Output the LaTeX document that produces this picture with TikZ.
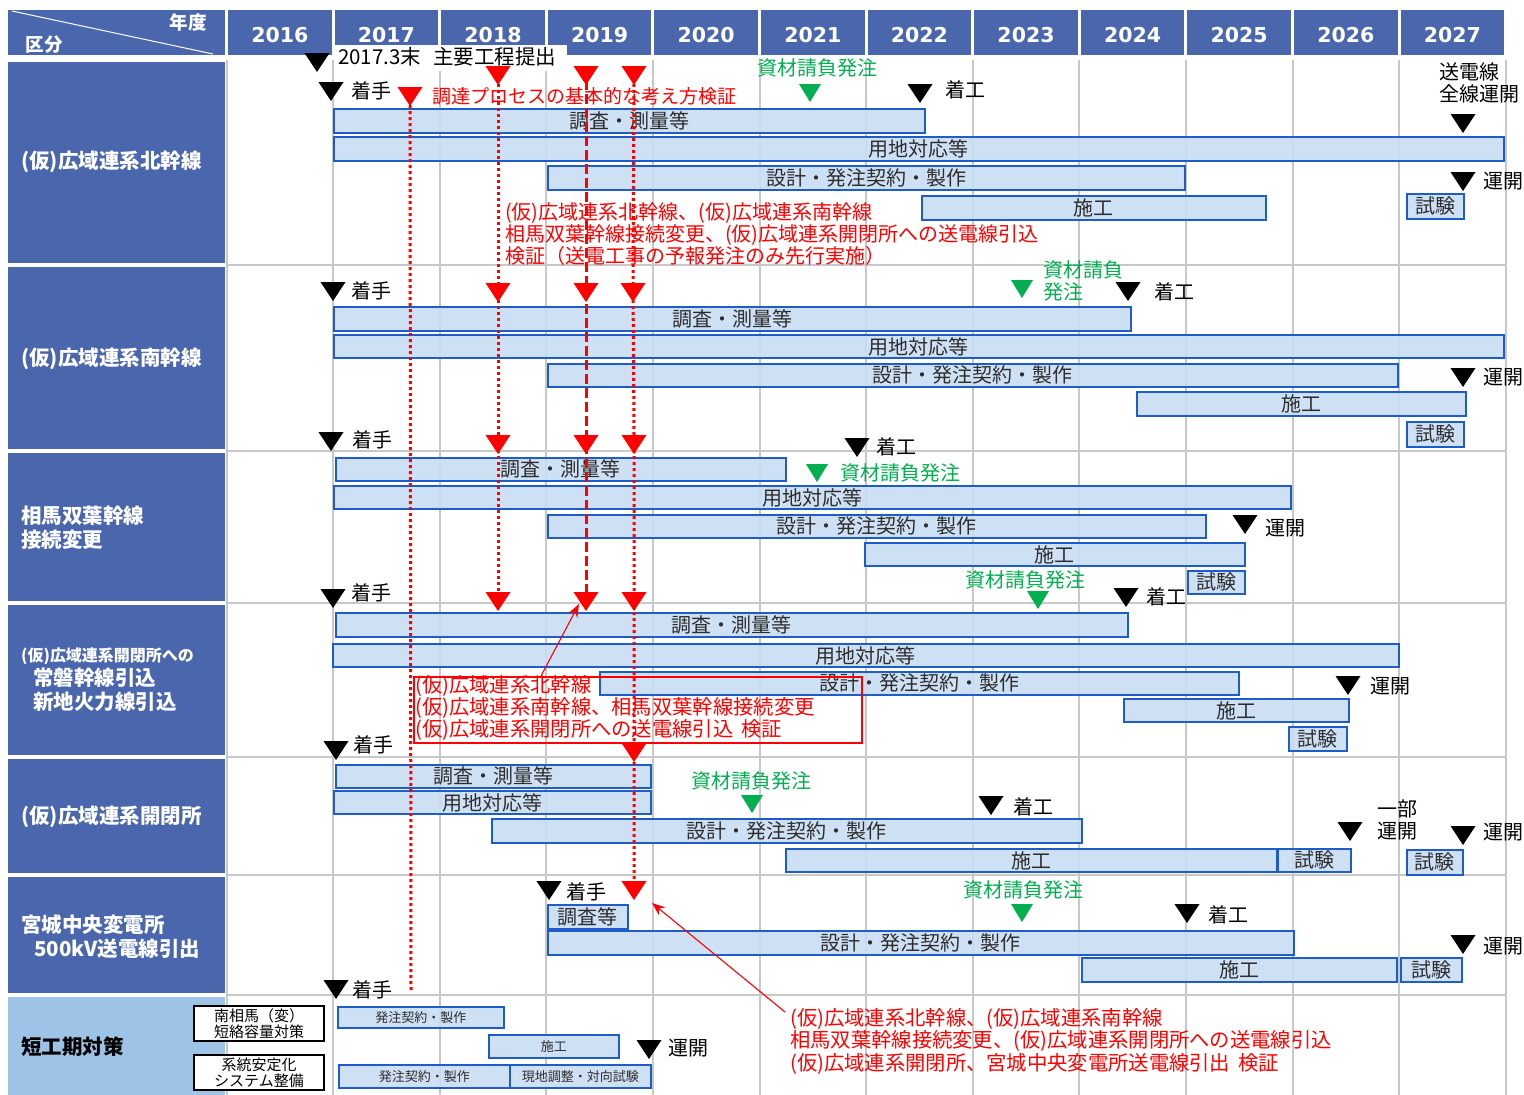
\documentclass[tikz,border=0pt]{standalone}
\usepackage{fontspec}
\setmainfont{Noto Sans CJK JP}
\newfontfamily\yearfont{DejaVu Sans}
\usetikzlibrary{arrows.meta}
\definecolor{hdrblue}{RGB}{74,102,172}
\definecolor{lightlab}{RGB}{157,195,230}
\definecolor{barfill}{RGB}{201,221,243}
\definecolor{barline}{RGB}{30,92,200}
\definecolor{gridgray}{RGB}{200,200,200}
\definecolor{mkgreen}{RGB}{0,176,80}
\definecolor{bartext}{RGB}{45,45,45}
\newcommand{\fsz}[1]{\fontsize{#1}{#1}\selectfont}
\newcommand{\fszl}[2]{\fontsize{#1}{#2}\selectfont}
\tikzset{
  barbox/.style={draw=barline, line width=1.8pt, fill=barfill, fill opacity=0.9, text opacity=1, inner sep=0pt, anchor=north west, font=\fsz{20}, text=bartext},
  labbox/.style={fill=hdrblue, inner sep=0pt, anchor=north west},
  labtxt/.style={text=white, font=\bfseries\fszl{20.5}{24}, inner sep=0pt, anchor=west, align=left},
  yearcell/.style={fill=hdrblue, minimum width=103.6pt, minimum height=45pt, inner sep=0pt},
  yeartxt/.style={text=white, font=\yearfont\bfseries\fsz{20.5}, inner sep=0pt},
  mtxt/.style={font=\fszl{20}{22.5}, inner sep=0pt, anchor=west, text=black, align=left},
  rtxt/.style={mtxt, text=red},
  gtxt/.style={mtxt, text=mkgreen},
  rdot/.style={red, line width=3pt, dash pattern=on 3pt off 3pt},
  rdash/.style={red, line width=3pt, dash pattern=on 10pt off 4pt},
  rarrow/.style={red, line width=1.1pt, -{Stealth[length=13pt,width=10pt]}},
  gline/.style={gridgray, line width=2pt},
  wbox/.style={draw=black, line width=2pt, fill=white, minimum width=130pt, minimum height=35pt, anchor=north west, align=center, font=\fszl{15}{16}, inner sep=0pt}
}
\newcommand{\gb}[6]{\pgfmathsetmacro{\gw}{#4-#2}\pgfmathsetmacro{\gh}{#5-#3}\node[barbox, minimum width=\gw pt, minimum height=\gh pt] (#1) at (#2,#3) {#6};}
\newcommand{\tri}[2]{\fill[#1] ([xshift=-12.5pt]#2) -- ([xshift=12.5pt]#2) -- ([yshift=-19pt]#2) -- cycle;}
\newcommand{\gtri}[1]{\fill[mkgreen] ([xshift=-11pt]#1) -- ([xshift=11pt]#1) -- ([yshift=-18pt]#1) -- cycle;}
\begin{document}
\begin{tikzpicture}[x=1pt,y=-1pt]
\useasboundingbox (0,0) rectangle (1524,1095);
\fill[white] (0,0) rectangle (1524,1095);
% grid
\foreach \k in {0,...,12} \draw[gline] (226.5+106.6*\k,60) -- (226.5+106.6*\k,1095);
\foreach \yy in {264.5,451,603,757,875,995} \draw[gline] (226,\yy) -- (1506,\yy);
% header
\node[labbox, minimum width=217pt, minimum height=45pt] (hdr) at (8,10) {};
\draw[white, line width=1pt] (12,11) -- (213,54);
\node[text=white, font=\bfseries\fsz{18.5}, inner sep=0pt] (nendo) at (188,22) {年度};
\node[text=white, font=\bfseries\fsz{18.5}, inner sep=0pt] (kubun) at (44,45) {区分};
\foreach \yr [count=\i from 0] in {2016,2017,2018,2019,2020,2021,2022,2023,2024,2025,2026,2027}{
  \node[yearcell] (y\yr) at (226.5+106.6*\i+53.3,32.5) {};
  \node[yeartxt] (yt\yr) at (226.5+106.6*\i+53.3,35) {\yr};}
% left labels
\node[labbox, minimum width=217pt, minimum height=201pt] (L1) at (8,62) {};
\node[labbox, minimum width=217pt, minimum height=182pt] (L2) at (8,267) {};
\node[labbox, minimum width=217pt, minimum height=148pt] (L3) at (8,453) {};
\node[labbox, minimum width=217pt, minimum height=150pt] (L4) at (8,605) {};
\node[labbox, minimum width=217pt, minimum height=114pt] (L5) at (8,759) {};
\node[labbox, minimum width=217pt, minimum height=116pt] (L6) at (8,877) {};
\node[labbox, fill=lightlab, minimum width=217pt, minimum height=98pt] (L7) at (8,997) {};
\node[labtxt] (L1t) at (21,162) {(仮)広域連系北幹線};
\node[labtxt] (L2t) at (21,359) {(仮)広域連系南幹線};
\node[labtxt] (L3t) at (21,528) {相馬双葉幹線\\接続変更};
\node[labtxt, font=\bfseries\fsz{16}] (L4a) at (21,656) {(仮)広域連系開閉所への};
\node[labtxt] (L4b) at (33,690) {常磐幹線引込\\新地火力線引込};
\node[labtxt] (L5t) at (21,817) {(仮)広域連系開閉所};
\node[labtxt] (L6t) at (21,937) {宮城中央変電所\\\hspace*{13pt}500kV送電線引出};
\node[labtxt, text=black, font=\bfseries\fsz{20.5}] (L7t) at (21,1047) {短工期対策};
\node[wbox] (w1) at (193,1005) {南相馬（変）\\短絡容量対策};
\node[wbox] (w2) at (193,1054) {系統安定化\\システム整備};
% milestone note
\node[fill=white, anchor=north west, minimum height=26pt, minimum width=232pt, inner sep=0pt] (note0box) at (335,45) {};
\node[mtxt, font=\fsz{20.5}] (note0) at (338,57) {2017.3末\hspace{12pt}主要工程提出};
% bars row1
\gb{r1a}{333}{108}{924}{132}{調査・測量等}
\gb{r1b}{333}{136}{1503}{160}{用地対応等}
\gb{r1c}{547}{165}{1184}{189}{設計・発注契約・製作}
\gb{r1d}{921}{195}{1265}{219}{施工}
\gb{r1e}{1406}{193}{1463}{218}{試験}
% row2
\gb{r2a}{333}{306}{1130}{330}{調査・測量等}
\gb{r2b}{333}{334}{1503}{357}{用地対応等}
\gb{r2c}{547}{363}{1397}{386}{設計・発注契約・製作}
\gb{r2d}{1136}{391}{1465}{415}{施工}
\gb{r2e}{1406}{421}{1463}{446}{試験}
% row3
\gb{r3a}{335}{457}{785}{480}{調査・測量等}
\gb{r3b}{333}{485}{1290}{508}{用地対応等}
\gb{r3c}{547}{514}{1205}{537}{設計・発注契約・製作}
\gb{r3d}{864}{542}{1244}{565}{施工}
\gb{r3e}{1187}{570}{1244}{593}{試験}
% row4
\gb{r4a}{335}{612}{1127}{636}{調査・測量等}
\gb{r4b}{332}{643}{1398}{666}{用地対応等}
\gb{r4c}{599}{671}{1238}{694}{設計・発注契約・製作}
\gb{r4d}{1123}{698}{1348}{721}{施工}
\gb{r4e}{1288}{726}{1346}{750}{試験}
% row5
\gb{r5a}{335}{764}{650}{787}{調査・測量等}
\gb{r5b}{333}{790}{650}{813}{用地対応等}
\gb{r5c}{491}{818}{1081}{842}{設計・発注契約・製作}
\gb{r5d}{785}{848}{1276}{871}{施工}
\gb{r5e}{1277}{848}{1350}{871}{試験}
\gb{r5f}{1406}{849}{1462}{874}{試験}
% row6
\gb{r6a}{547}{904}{627}{928}{調査等}
\gb{r6c}{547}{930}{1293}{954}{設計・発注契約・製作}
\gb{r6d}{1081}{957}{1396}{981}{施工}
\gb{r6e}{1400}{957}{1461}{981}{試験}
% row7
\gb{r7a}{337}{1006}{503}{1027}{\fsz{13}発注契約・製作}
\gb{r7b}{488}{1034}{618}{1057}{\fsz{13}施工}
\gb{r7c}{338}{1064}{509}{1087}{\fsz{13}発注契約・製作}
\gb{r7d}{509}{1064}{650}{1087}{\fsz{13}現地調整・対向試験}
% red box row4
\node[draw=red, line width=1.5pt, anchor=north west, minimum width=448pt, minimum height=66pt, inner sep=0pt] (box4) at (413,676) {};
% red marker coordinates
\coordinate (a1) at (410,87); \coordinate (aend) at (411,990);
\coordinate (b1) at (498,66); \coordinate (b2) at (498,283); \coordinate (b3) at (498,435); \coordinate (b4) at (498,592);
\coordinate (c1) at (586,66); \coordinate (c2) at (586,283); \coordinate (c3) at (586,435); \coordinate (c4) at (586,592);
\coordinate (d1) at (634,66); \coordinate (d2) at (633,283); \coordinate (d3) at (634,435); \coordinate (d4) at (634,592); \coordinate (d5) at (634,743); \coordinate (d6) at (634,881);
\draw[rdot] (a1) -- (aend);
\draw[rdot] (b1) -- (b2) -- (b3) -- (b4);
\draw[rdash] (c1) -- (c2) -- (c3) -- (c4);
\draw[rdot] (d1) -- (d2) -- (d3) -- (d4) -- (d5) -- (d6);
\foreach \p in {a1,b1,b2,b3,b4,c1,c2,c3,c4,d1,d2,d3,d4,d5,d6} {\tri{red}{\p}}
% black markers
\coordinate (k0) at (317,53);
\coordinate (k1) at (331,82); \coordinate (k2) at (920,84); \coordinate (k3) at (1463,114); \coordinate (k4) at (1463,172);
\coordinate (k5) at (333,282); \coordinate (k6) at (1128,282); \coordinate (k7) at (1463,368);
\coordinate (k8) at (331,432); \coordinate (k9) at (857,438); \coordinate (k10) at (1245,515); \coordinate (k11) at (1126,588);
\coordinate (k12) at (333,589); \coordinate (k13) at (1348,676);
\coordinate (k14) at (336,741); \coordinate (k15) at (991,796); \coordinate (k16) at (1350,822); \coordinate (k17) at (1463,826);
\coordinate (k18) at (549,881); \coordinate (k19) at (1187,904); \coordinate (k20) at (1463,935);
\coordinate (k21) at (336,980); \coordinate (k22) at (649,1040);
\foreach \p in {k0,k1,k2,k3,k4,k5,k6,k7,k8,k9,k10,k11,k12,k13,k14,k15,k16,k17,k18,k19,k20,k21,k22} {\tri{black}{\p}}
% green markers
\coordinate (g1) at (810,84); \coordinate (g2) at (1022,280); \coordinate (g3) at (817,464);
\coordinate (g4) at (1038,591); \coordinate (g5) at (752,795); \coordinate (g6) at (1022,904);
\foreach \p in {g1,g2,g3,g4,g5,g6} {\gtri{\p}}
% black labels
\node[mtxt] (t1) at (351,91) {着手};
\node[mtxt] (t2) at (945,90) {着工};
\node[mtxt] (t3) at (1439,83) {送電線\\全線運開};
\node[mtxt] (t4) at (1483,181) {運開};
\node[mtxt] (t5) at (351,291) {着手};
\node[mtxt] (t6) at (1154,292) {着工};
\node[mtxt] (t7) at (1483,377) {運開};
\node[mtxt] (t8) at (352,440) {着手};
\node[mtxt] (t9) at (876,447) {着工};
\node[mtxt] (t10) at (1265,528) {運開};
\node[mtxt] (t11) at (1146,597) {着工};
\node[mtxt] (t12) at (351,593) {着手};
\node[mtxt] (t13) at (1370,686) {運開};
\node[mtxt] (t14) at (353,745) {着手};
\node[mtxt] (t15) at (1013,807) {着工};
\node[mtxt] (t16) at (1377,820) {一部\\運開};
\node[mtxt] (t17) at (1483,832) {運開};
\node[mtxt] (t18) at (566,892) {着手};
\node[mtxt] (t19) at (1208,915) {着工};
\node[mtxt] (t20) at (1483,946) {運開};
\node[mtxt] (t21) at (352,990) {着手};
\node[mtxt] (t22) at (668,1048) {運開};
% green labels
\node[gtxt] (gt1) at (757,68) {資材請負発注};
\node[gtxt] (gt2) at (1043,281) {資材請負\\発注};
\node[gtxt] (gt3) at (840,473) {資材請負発注};
\node[gtxt] (gt4) at (965,580) {資材請負発注};
\node[gtxt] (gt5) at (691,781) {資材請負発注};
\node[gtxt] (gt6) at (963,890) {資材請負発注};
% red texts
\node[rtxt, font=\fsz{19}] (rt1) at (432,96) {調達プロセスの基本的な考え方検証};
\node[rtxt, font=\fszl{20}{22}] (rt2) at (505,234) {(仮)広域連系北幹線、(仮)広域連系南幹線\\相馬双葉幹線接続変更、(仮)広域連系開閉所への送電線引込\\検証（送電工事の予報発注のみ先行実施）};
\node[rtxt, font=\fszl{20.3}{22}] (rt3) at (415,708) {(仮)広域連系北幹線\\(仮)広域連系南幹線、相馬双葉幹線接続変更\\(仮)広域連系開閉所への送電線引込\hspace{8pt}検証};
\node[rtxt, font=\fszl{20.3}{22.5}] (rt4) at (790,1041) {(仮)広域連系北幹線、(仮)広域連系南幹線\\相馬双葉幹線接続変更、(仮)広域連系開閉所への送電線引込\\(仮)広域連系開閉所、宮城中央変電所送電線引出\hspace{8pt}検証};
% red arrows
\coordinate (ar4s) at (541,676); \coordinate (ar4e) at (579,604);
\coordinate (ar6s) at (785,1012); \coordinate (ar6e) at (652,903);
\draw[rarrow] (ar4s) -- (ar4e);
\draw[rarrow] (ar6s) -- (ar6e);
\end{tikzpicture}
\end{document}
